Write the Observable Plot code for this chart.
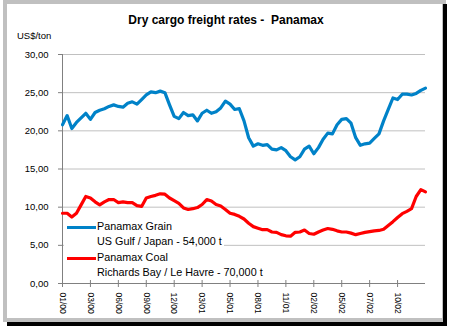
<!DOCTYPE html>
<html>
<head>
<meta charset="utf-8">
<script src="https://cdn.jsdelivr.net/npm/d3@7"></script>
<script src="https://cdn.jsdelivr.net/npm/@observablehq/plot@0.6"></script>
<style>
  html, body { margin: 0; padding: 0; background: #fff; }
  #wrap { position: relative; width: 452px; height: 328px; background: #fff; overflow: hidden; font-family: "Liberation Sans", Arial, sans-serif; }
  #wrap svg { position: absolute; left: 0; top: 0; }
  .abs { position: absolute; white-space: pre; color: #000; }
</style>
</head>
<body>
<div id="wrap"></div>
<script>
// ---- data (weekly index, every 2 weeks from 01/2000) ----
const weeks = d3.range(0, 157, 2);
const grain = [
  20.8, 22.0, 20.3, 21.1, 21.7, 22.3, 21.5, 22.4, 22.7, 22.9,
  23.2, 23.4, 23.2, 23.1, 23.6, 23.8, 23.5, 24.1, 24.7, 25.1,
  25.0, 25.2, 25.0, 23.4, 21.9, 21.6, 22.4, 22.0, 22.1, 21.3,
  22.3, 22.7, 22.3, 22.5, 23.0, 23.9, 23.5, 22.8, 22.9, 21.3,
  19.1, 18.0, 18.3, 18.1, 18.2, 17.6, 17.5, 17.8, 17.4, 16.6,
  16.2, 16.6, 17.6, 18.0, 17.0, 17.8, 18.9, 19.7, 19.6, 20.8,
  21.5, 21.6, 21.0, 19.1, 18.1, 18.3, 18.4, 19.0, 19.6, 21.3,
  22.8, 24.3, 24.1, 24.8, 24.8, 24.7, 24.9, 25.3, 25.6
];
const coal = [
  9.2, 9.2, 8.7, 9.2, 10.3, 11.4, 11.2, 10.7, 10.3, 10.7,
  11.0, 11.0, 10.6, 10.7, 10.6, 10.6, 10.2, 10.1, 11.2, 11.4,
  11.55, 11.75, 11.7, 11.2, 10.85, 10.5, 9.9, 9.7, 9.8, 9.95,
  10.35, 11.0, 10.8, 10.35, 10.15, 9.7, 9.2, 9.05, 8.8, 8.45,
  7.9, 7.45, 7.25, 7.05, 7.05, 6.75, 6.7, 6.4, 6.25, 6.2,
  6.7, 6.75, 7.0, 6.55, 6.45, 6.75, 7.0, 7.2, 7.1, 6.9,
  6.75, 6.75, 6.6, 6.4, 6.55, 6.7, 6.8, 6.9, 6.95, 7.1,
  7.6, 8.1, 8.65, 9.15, 9.45, 9.8, 11.4, 12.3, 12.0
];
const tickWeeks = [0, 12, 24, 36, 48, 60, 72, 84, 96, 108, 120, 132, 144];
const tickLabels = ["01/00","03/00","06/00","09/00","12/00","03/01","05/01","08/01","11/01","02/02","05/02","07/02","10/02"];
const yTicks = [0, 5, 10, 15, 20, 25, 30];
const seriesNames = ["Panamax Grain", "Panamax Coal"];
const seriesSub = ["US Gulf / Japan - 54,000 t", "Richards Bay / Le Havre - 70,000 t"];
const colors = ["#0082c8", "#ff0000"];
const title = "Dry cargo freight rates -  Panamax";
const yUnit = "US$/ton";

const grainData = weeks.map((w, i) => ({w, v: grain[i]}));
const coalData = weeks.map((w, i) => ({w, v: coal[i]}));

const fmt = d => d.toFixed(2).replace(".", ",");

const chart = Plot.plot({
  width: 452,
  height: 328,
  marginLeft: 62,
  marginRight: 27,
  marginTop: 54,
  marginBottom: 45,
  style: {background: "transparent", fontFamily: "'Liberation Sans', Arial, sans-serif"},
  x: {domain: [0, 156]},
  y: {domain: [0, 30]},
  marks: [
    Plot.gridY(yTicks.filter(d => d > 0), {stroke: "#c0c0c0", strokeOpacity: 1}),
    Plot.ruleX([0], {stroke: "#808080"}),
    Plot.ruleY([0], {stroke: "#808080"}),
    Plot.axisY(yTicks, {tickSize: 4, tickPadding: 10, tickFormat: fmt, stroke: "#808080", fontSize: 9.5, fill: "#000", label: null}),
    Plot.ruleX(tickWeeks, {y1: 0, y2: 0, insetTop: -3, insetBottom: -4, stroke: "#808080"}),
    Plot.axisX(tickWeeks, {tickSize: 0, tickPadding: 9, tickRotate: 90, tickFormat: (d, i) => tickLabels[i], fontSize: 8.5, fill: "#000", label: null}),
    Plot.line(grainData, {x: "w", y: "v", stroke: colors[0], strokeWidth: 3.2, strokeLinejoin: "round"}),
    Plot.line(coalData, {x: "w", y: "v", stroke: colors[1], strokeWidth: 3.2, strokeLinejoin: "round"})
  ]
});

const wrap = document.getElementById("wrap");
wrap.appendChild(chart);

// legend background (hides gridline beneath legend text), inserted before lines
const firstLine = chart.querySelector("g[aria-label='line']");
const bg = document.createElementNS("http://www.w3.org/2000/svg", "rect");
bg.setAttribute("x", 64); bg.setAttribute("y", 234); bg.setAttribute("width", 160); bg.setAttribute("height", 16);
bg.setAttribute("fill", "#fff");
chart.insertBefore(bg, firstLine);

function add(text, css) {
  const d = document.createElement("div");
  d.className = "abs";
  d.textContent = text;
  Object.assign(d.style, css);
  wrap.appendChild(d);
  return d;
}
// title
add(title, {left: "0px", width: "452px", textAlign: "center", top: "13px", fontSize: "12px", fontWeight: "bold"});
add(yUnit, {left: "17px", top: "30px", fontSize: "9.5px"});
// legend
const legY = [227, 258];
legY.forEach((y, i) => {
  const ln = document.createElement("div");
  Object.assign(ln.style, {position: "absolute", left: "67px", top: (y - 1.5) + "px", width: "29px", height: "3px", background: colors[i]});
  wrap.appendChild(ln);
  add(seriesNames[i], {left: "97px", top: (y - 7) + "px", fontSize: "10.8px"});
  add(seriesSub[i], {left: "97px", top: (y + 8) + "px", fontSize: "10.8px"});
});
// frame: gray border with black drop shadow
const fr = document.createElement("div");
Object.assign(fr.style, {position: "absolute", left: "3px", top: "0px", width: "435px", height: "314px", border: "4px solid #c0c0c0", boxSizing: "content-box", pointerEvents: "none"});
wrap.appendChild(fr);
const sr = document.createElement("div");
Object.assign(sr.style, {position: "absolute", left: "443px", top: "4px", width: "4px", height: "322px", background: "#000"});
wrap.appendChild(sr);
const sb = document.createElement("div");
Object.assign(sb.style, {position: "absolute", left: "7px", top: "322px", width: "440px", height: "4px", background: "#000"});
wrap.appendChild(sb);
</script>
</body>
</html>
